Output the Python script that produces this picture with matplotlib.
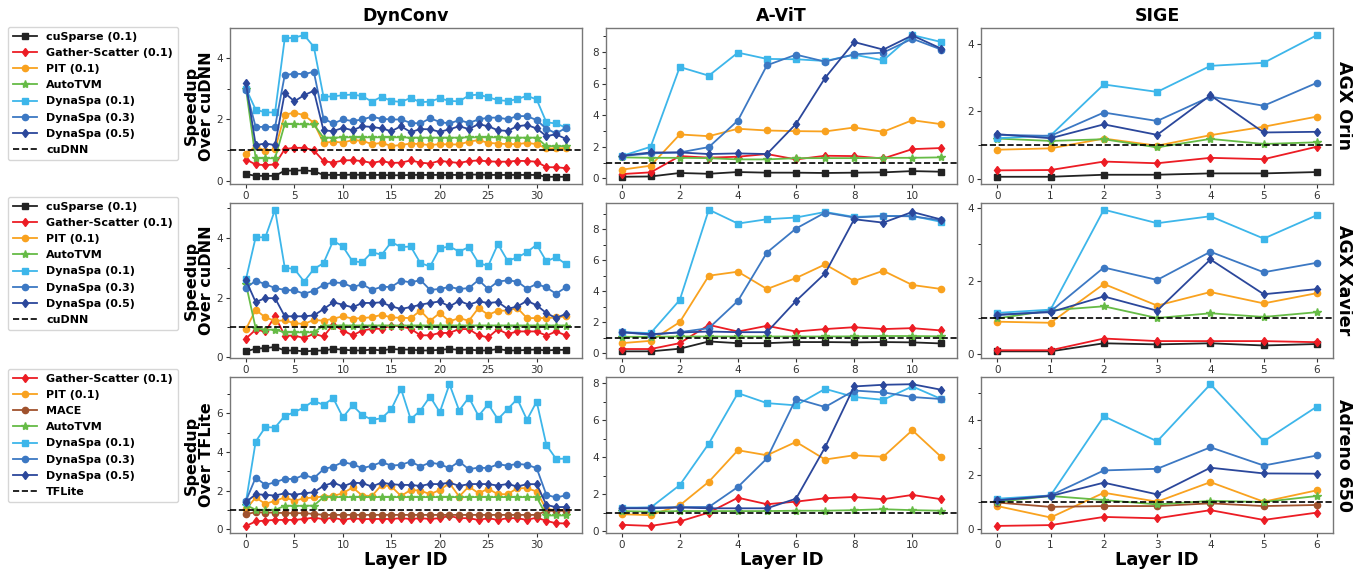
import matplotlib
matplotlib.use("Agg")
import matplotlib.pyplot as plt
from matplotlib.ticker import MultipleLocator

layers_dynconv = list(range(34))
layers_avit = list(range(12))
layers_sige = list(range(7))

col_titles = ["DynConv", "A-ViT", "SIGE"]
row_names = ["AGX Orin", "AGX Xavier", "Adreno 650"]
baselines = ["cuDNN", "cuDNN", "TFLite"]

# ---- AGX Orin ----
orin_dynconv_cusparse = [0.23, 0.17, 0.17, 0.17, 0.34, 0.34, 0.35, 0.32, 0.20, 0.20, 0.20, 0.21, 0.20, 0.20, 0.20, 0.19, 0.19,
                         0.20, 0.20, 0.20, 0.20, 0.20, 0.20, 0.21, 0.21, 0.20, 0.20, 0.20, 0.20, 0.20, 0.20, 0.14, 0.14, 0.14]
orin_dynconv_gather = [0.70, 0.54, 0.52, 0.54, 1.04, 1.08, 1.08, 1.00, 0.65, 0.60, 0.67, 0.68, 0.65, 0.59, 0.65, 0.59, 0.60,
                       0.67, 0.60, 0.57, 0.66, 0.62, 0.59, 0.65, 0.67, 0.64, 0.63, 0.63, 0.66, 0.65, 0.63, 0.45, 0.45, 0.42]
orin_dynconv_pit = [0.88, 1.13, 0.98, 1.03, 2.16, 2.22, 2.14, 1.89, 1.24, 1.28, 1.25, 1.33, 1.31, 1.20, 1.24, 1.14, 1.17,
                    1.22, 1.20, 1.17, 1.20, 1.19, 1.19, 1.28, 1.33, 1.24, 1.22, 1.20, 1.20, 1.24, 1.20, 1.06, 1.06, 1.07]
orin_dynconv_autotvm = [3.00, 0.74, 0.74, 0.74, 1.85, 1.85, 1.84, 1.84, 1.41, 1.41, 1.42, 1.42, 1.42, 1.42, 1.42, 1.42, 1.42,
                        1.41, 1.41, 1.41, 1.41, 1.41, 1.41, 1.42, 1.42, 1.42, 1.42, 1.41, 1.41, 1.41, 1.41, 1.13, 1.14, 1.13]
orin_dynconv_dyna01 = [3.00, 2.32, 2.23, 2.23, 4.63, 4.66, 4.74, 4.36, 2.74, 2.75, 2.79, 2.81, 2.76, 2.58, 2.74, 2.60, 2.57,
                       2.70, 2.56, 2.58, 2.69, 2.60, 2.59, 2.78, 2.81, 2.72, 2.63, 2.60, 2.66, 2.77, 2.65, 1.91, 1.87, 1.74]
orin_dynconv_dyna03 = [2.95, 1.76, 1.76, 1.76, 3.44, 3.49, 3.47, 3.55, 2.03, 1.87, 2.00, 1.95, 2.00, 2.09, 2.02, 2.00, 2.00,
                       1.89, 1.87, 2.04, 1.92, 1.87, 1.98, 1.89, 2.00, 2.06, 2.06, 2.01, 2.11, 2.11, 1.98, 1.70, 1.55, 1.72]
orin_dynconv_dyna05 = [3.17, 1.17, 1.22, 1.17, 2.86, 2.59, 2.79, 2.93, 1.65, 1.62, 1.73, 1.65, 1.78, 1.76, 1.71, 1.62, 1.78,
                       1.59, 1.69, 1.68, 1.60, 1.68, 1.78, 1.69, 1.85, 1.78, 1.65, 1.63, 1.78, 1.82, 1.71, 1.46, 1.52, 1.37]

orin_avit_cusparse = [0.10, 0.12, 0.34, 0.29, 0.40, 0.36, 0.36, 0.34, 0.36, 0.38, 0.46, 0.42]
orin_avit_gather = [0.27, 0.38, 1.41, 1.31, 1.37, 1.54, 1.20, 1.43, 1.41, 1.26, 1.85, 1.92]
orin_avit_pit = [0.55, 0.80, 2.78, 2.67, 3.14, 3.03, 2.99, 2.97, 3.22, 2.95, 3.68, 3.43]
orin_avit_autotvm = [1.33, 1.30, 1.30, 1.28, 1.20, 1.20, 1.28, 1.28, 1.28, 1.30, 1.30, 1.33]
orin_avit_dyna01 = [1.41, 2.00, 7.05, 6.50, 7.96, 7.56, 7.54, 7.43, 7.83, 7.47, 9.07, 8.63]
orin_avit_dyna03 = [1.41, 1.58, 1.64, 1.98, 3.66, 7.16, 7.83, 7.39, 7.85, 7.96, 8.84, 8.15]
orin_avit_dyna05 = [1.43, 1.64, 1.64, 1.54, 1.58, 1.54, 3.45, 6.36, 8.63, 8.15, 9.05, 8.21]

orin_sige_cusparse = [0.06, 0.06, 0.12, 0.12, 0.16, 0.16, 0.20]
orin_sige_gather = [0.25, 0.26, 0.51, 0.46, 0.62, 0.58, 0.95]
orin_sige_pit = [0.86, 0.90, 1.19, 0.98, 1.29, 1.54, 1.84]
orin_sige_autotvm = [1.19, 1.12, 1.17, 0.93, 1.18, 1.03, 1.08]
orin_sige_dyna01 = [1.20, 1.28, 2.79, 2.57, 3.34, 3.43, 4.25]
orin_sige_dyna03 = [1.30, 1.27, 1.96, 1.71, 2.43, 2.16, 2.84]
orin_sige_dyna05 = [1.32, 1.20, 1.61, 1.30, 2.47, 1.37, 1.39]

# ---- AGX Xavier ----
xavier_dynconv_cusparse = [0.19, 0.28, 0.30, 0.34, 0.22, 0.22, 0.19, 0.21, 0.22, 0.27, 0.25, 0.22, 0.22, 0.25, 0.22, 0.27, 0.25,
                           0.25, 0.22, 0.22, 0.24, 0.27, 0.24, 0.25, 0.22, 0.22, 0.27, 0.22, 0.22, 0.24, 0.25, 0.22, 0.24, 0.24]
xavier_dynconv_gather = [0.62, 0.92, 0.86, 1.37, 0.72, 0.72, 0.64, 0.78, 0.69, 1.09, 0.89, 0.73, 0.89, 0.95, 0.95, 1.06, 1.03,
                         0.95, 0.73, 0.73, 0.81, 0.81, 0.94, 0.94, 0.73, 0.66, 0.94, 0.77, 0.86, 0.86, 0.86, 0.72, 0.86, 0.73]
xavier_dynconv_pit = [0.94, 1.59, 1.33, 1.22, 1.23, 1.14, 1.11, 1.25, 1.22, 1.29, 1.37, 1.29, 1.31, 1.34, 1.42, 1.33, 1.32,
                      1.31, 1.56, 1.22, 1.48, 1.20, 1.31, 1.22, 1.65, 1.42, 1.56, 1.56, 1.65, 1.31, 1.31, 1.31, 1.33, 1.37]
xavier_dynconv_autotvm = [2.45, 0.97, 0.92, 0.92, 0.83, 0.83, 0.83, 0.83, 1.06, 1.06, 1.06, 1.06, 1.06, 1.06, 1.06, 1.06, 1.06,
                          1.06, 1.06, 1.06, 1.06, 1.06, 1.06, 1.06, 1.06, 1.06, 1.06, 1.06, 1.06, 1.06, 1.06, 1.06, 1.06, 1.06]
xavier_dynconv_dyna01 = [2.62, 4.03, 4.03, 4.96, 3.01, 2.96, 2.54, 2.96, 3.16, 3.91, 3.72, 3.22, 3.19, 3.53, 3.44, 3.87, 3.70,
                         3.72, 3.16, 3.05, 3.66, 3.72, 3.55, 3.70, 3.16, 3.07, 3.80, 3.24, 3.35, 3.53, 3.78, 3.22, 3.36, 3.13]
xavier_dynconv_dyna03 = [2.32, 2.57, 2.45, 2.32, 2.26, 2.24, 2.13, 2.23, 2.43, 2.51, 2.49, 2.35, 2.45, 2.26, 2.36, 2.36, 2.57,
                         2.51, 2.59, 2.26, 2.29, 2.36, 2.29, 2.32, 2.59, 2.29, 2.54, 2.58, 2.54, 2.30, 2.46, 2.34, 2.13, 2.34]
xavier_dynconv_dyna05 = [2.58, 1.85, 1.98, 1.98, 1.37, 1.37, 1.37, 1.40, 1.61, 1.84, 1.76, 1.67, 1.82, 1.82, 1.84, 1.70, 1.62,
                         1.68, 1.76, 1.82, 1.87, 1.70, 1.89, 1.76, 1.87, 1.82, 1.85, 1.62, 1.70, 1.89, 1.74, 1.48, 1.31, 1.45]

xavier_avit_cusparse = [0.11, 0.11, 0.28, 0.75, 0.64, 0.64, 0.71, 0.71, 0.69, 0.71, 0.69, 0.62]
xavier_avit_gather = [0.26, 0.26, 0.64, 1.82, 1.39, 1.76, 1.39, 1.55, 1.67, 1.55, 1.61, 1.46]
xavier_avit_pit = [0.64, 0.79, 2.00, 5.00, 5.26, 4.14, 4.85, 5.73, 4.66, 5.32, 4.40, 4.14]
xavier_avit_autotvm = [1.05, 1.05, 1.07, 1.07, 1.07, 1.07, 1.07, 1.07, 1.08, 1.10, 1.10, 1.08]
xavier_avit_dyna01 = [1.35, 1.29, 3.43, 9.27, 8.37, 8.65, 8.76, 9.12, 8.80, 8.86, 8.86, 8.48]
xavier_avit_dyna03 = [1.35, 1.18, 1.35, 1.61, 3.37, 6.50, 8.05, 9.08, 8.76, 8.86, 8.84, 8.58]
xavier_avit_dyna05 = [1.35, 1.22, 1.33, 1.39, 1.35, 1.35, 3.37, 5.15, 8.65, 8.43, 9.12, 8.63]

xavier_sige_cusparse = [0.08, 0.08, 0.30, 0.27, 0.30, 0.24, 0.28]
xavier_sige_gather = [0.11, 0.11, 0.43, 0.36, 0.36, 0.36, 0.33]
xavier_sige_pit = [0.89, 0.86, 1.92, 1.33, 1.70, 1.39, 1.67]
xavier_sige_autotvm = [0.98, 1.20, 1.31, 0.99, 1.12, 1.02, 1.15]
xavier_sige_dyna01 = [1.13, 1.22, 3.95, 3.58, 3.77, 3.16, 3.80]
xavier_sige_dyna03 = [1.07, 1.17, 2.37, 2.03, 2.80, 2.24, 2.50]
xavier_sige_dyna05 = [1.08, 1.15, 1.58, 1.19, 2.59, 1.64, 1.78]

# ---- Adreno 650 ----
adreno_dynconv_gather = [0.17, 0.40, 0.45, 0.48, 0.48, 0.48, 0.53, 0.60, 0.52, 0.60, 0.48, 0.57, 0.52, 0.53, 0.53, 0.53, 0.57,
                         0.53, 0.57, 0.53, 0.57, 0.69, 0.57, 0.57, 0.48, 0.57, 0.48, 0.57, 0.57, 0.48, 0.60, 0.43, 0.31, 0.30]
adreno_dynconv_pit = [1.03, 1.64, 1.31, 1.47, 1.64, 1.47, 1.60, 1.64, 1.69, 1.72, 1.86, 2.16, 1.74, 1.72, 2.29, 2.21, 1.72,
                      2.03, 2.00, 1.81, 2.03, 2.38, 1.69, 2.21, 1.86, 2.09, 1.81, 1.81, 2.12, 2.12, 1.95, 1.03, 1.00, 1.00]
adreno_dynconv_mace = [0.78, 0.88, 0.86, 0.86, 0.83, 0.83, 0.83, 0.79, 0.74, 0.74, 0.74, 0.74, 0.74, 0.74, 0.74, 0.74, 0.74,
                       0.74, 0.74, 0.74, 0.74, 0.74, 0.74, 0.74, 0.74, 0.74, 0.74, 0.74, 0.74, 0.74, 0.74, 0.95, 0.95, 0.95]
adreno_dynconv_autotvm = [1.26, 1.00, 1.00, 1.00, 1.21, 1.21, 1.21, 1.22, 1.66, 1.66, 1.66, 1.66, 1.66, 1.66, 1.66, 1.66, 1.66,
                          1.66, 1.66, 1.66, 1.66, 1.66, 1.66, 1.66, 1.66, 1.66, 1.66, 1.66, 1.66, 1.66, 1.66, 0.71, 0.71, 0.71]
adreno_dynconv_dyna01 = [1.43, 4.53, 5.28, 5.26, 5.86, 6.05, 6.31, 6.64, 6.43, 6.78, 5.79, 6.40, 5.91, 5.66, 5.74, 6.21, 7.26,
                         5.69, 6.14, 6.86, 6.05, 7.50, 6.14, 6.81, 5.86, 6.47, 5.69, 6.21, 6.74, 5.66, 6.60, 4.36, 3.64, 3.65]
adreno_dynconv_dyna03 = [1.47, 2.67, 2.29, 2.43, 2.60, 2.60, 2.81, 2.64, 3.10, 3.24, 3.47, 3.36, 3.16, 3.28, 3.47, 3.29, 3.33,
                         3.50, 3.24, 3.45, 3.36, 3.16, 3.50, 3.10, 3.19, 3.16, 3.36, 3.29, 3.38, 3.33, 3.16, 1.78, 1.64, 1.75]
adreno_dynconv_dyna05 = [1.40, 1.81, 1.78, 1.74, 1.86, 1.78, 1.86, 1.91, 2.24, 2.41, 2.21, 2.41, 2.38, 2.21, 2.41, 2.33, 2.29,
                         2.29, 2.24, 2.34, 2.33, 2.41, 2.24, 2.33, 2.34, 2.33, 2.26, 2.34, 2.21, 2.33, 2.33, 1.26, 1.14, 1.15]

adreno_avit_gather = [0.36, 0.30, 0.54, 1.02, 1.82, 1.47, 1.61, 1.79, 1.86, 1.74, 1.97, 1.74]
adreno_avit_pit = [0.93, 0.88, 1.41, 2.68, 4.38, 4.11, 4.83, 3.88, 4.11, 4.03, 5.46, 4.01]
adreno_avit_autotvm = [1.10, 1.07, 1.10, 1.10, 1.10, 1.10, 1.12, 1.12, 1.15, 1.20, 1.15, 1.12]
adreno_avit_dyna01 = [1.29, 1.29, 2.50, 4.74, 7.46, 6.92, 6.80, 7.69, 7.25, 7.10, 7.82, 7.14]
adreno_avit_dyna03 = [1.25, 1.29, 1.32, 1.32, 2.40, 3.94, 7.16, 6.71, 7.60, 7.50, 7.25, 7.14]
adreno_avit_dyna05 = [1.25, 1.25, 1.29, 1.25, 1.25, 1.25, 1.77, 4.54, 7.82, 7.91, 7.94, 7.64]

adreno_sige_gather = [0.12, 0.15, 0.45, 0.40, 0.70, 0.34, 0.61]
adreno_sige_pit = [0.85, 0.43, 1.34, 1.01, 1.73, 1.01, 1.43]
adreno_sige_mace = [0.98, 0.82, 0.85, 0.85, 0.95, 0.85, 0.89]
adreno_sige_autotvm = [1.00, 1.22, 1.07, 0.91, 1.04, 1.00, 1.22]
adreno_sige_dyna01 = [1.12, 1.24, 4.15, 3.23, 5.33, 3.23, 4.51]
adreno_sige_dyna03 = [1.06, 1.24, 2.16, 2.22, 3.01, 2.34, 2.71]
adreno_sige_dyna05 = [1.06, 1.22, 1.71, 1.28, 2.26, 2.05, 2.04]

styles = {
    "cuSparse (0.1)": ("#222222", "s"),
    "Gather-Scatter (0.1)": ("#ec1c24", "d"),
    "PIT (0.1)": ("#f9a21f", "o"),
    "MACE": ("#a0522d", "o"),
    "AutoTVM": ("#66bb46", "*"),
    "DynaSpa (0.1)": ("#3db6ea", "s"),
    "DynaSpa (0.3)": ("#3c78c3", "o"),
    "DynaSpa (0.5)": ("#2b479b", "d"),
}

orin_methods = ["cuSparse (0.1)", "Gather-Scatter (0.1)", "PIT (0.1)", "AutoTVM",
                "DynaSpa (0.1)", "DynaSpa (0.3)", "DynaSpa (0.5)"]
adreno_methods = ["Gather-Scatter (0.1)", "PIT (0.1)", "MACE", "AutoTVM",
                  "DynaSpa (0.1)", "DynaSpa (0.3)", "DynaSpa (0.5)"]
adreno_avit_methods = ["Gather-Scatter (0.1)", "PIT (0.1)", "AutoTVM",
                       "DynaSpa (0.1)", "DynaSpa (0.3)", "DynaSpa (0.5)"]

panels = [
    [(layers_dynconv, orin_methods, [orin_dynconv_cusparse, orin_dynconv_gather, orin_dynconv_pit, orin_dynconv_autotvm,
                                     orin_dynconv_dyna01, orin_dynconv_dyna03, orin_dynconv_dyna05]),
     (layers_avit, orin_methods, [orin_avit_cusparse, orin_avit_gather, orin_avit_pit, orin_avit_autotvm,
                                  orin_avit_dyna01, orin_avit_dyna03, orin_avit_dyna05]),
     (layers_sige, orin_methods, [orin_sige_cusparse, orin_sige_gather, orin_sige_pit, orin_sige_autotvm,
                                  orin_sige_dyna01, orin_sige_dyna03, orin_sige_dyna05])],
    [(layers_dynconv, orin_methods, [xavier_dynconv_cusparse, xavier_dynconv_gather, xavier_dynconv_pit,
                                     xavier_dynconv_autotvm, xavier_dynconv_dyna01, xavier_dynconv_dyna03,
                                     xavier_dynconv_dyna05]),
     (layers_avit, orin_methods, [xavier_avit_cusparse, xavier_avit_gather, xavier_avit_pit, xavier_avit_autotvm,
                                  xavier_avit_dyna01, xavier_avit_dyna03, xavier_avit_dyna05]),
     (layers_sige, orin_methods, [xavier_sige_cusparse, xavier_sige_gather, xavier_sige_pit, xavier_sige_autotvm,
                                  xavier_sige_dyna01, xavier_sige_dyna03, xavier_sige_dyna05])],
    [(layers_dynconv, adreno_methods, [adreno_dynconv_gather, adreno_dynconv_pit, adreno_dynconv_mace,
                                       adreno_dynconv_autotvm, adreno_dynconv_dyna01, adreno_dynconv_dyna03,
                                       adreno_dynconv_dyna05]),
     (layers_avit, adreno_avit_methods, [adreno_avit_gather, adreno_avit_pit, adreno_avit_autotvm,
                                         adreno_avit_dyna01, adreno_avit_dyna03, adreno_avit_dyna05]),
     (layers_sige, adreno_methods, [adreno_sige_gather, adreno_sige_pit, adreno_sige_mace, adreno_sige_autotvm,
                                    adreno_sige_dyna01, adreno_sige_dyna03, adreno_sige_dyna05])],
]

W, H = 1353, 572
fig, axes = plt.subplots(3, 3, figsize=(W / 100, H / 100), dpi=100)
fig.subplots_adjust(left=230 / W, right=1333 / W, top=1 - 28 / H, bottom=1 - 533 / H,
                    wspace=0.068, hspace=0.12)

for r in range(3):
    for c in range(3):
        ax = axes[r][c]
        x, methods, series = panels[r][c]
        for name, vals in zip(methods, series):
            color, marker = styles[name]
            ms = 6 if marker == "*" else 4.5
            ax.plot(x, vals, color=color, marker=marker, markersize=ms, linewidth=1.3, label=name)
        ax.axhline(1.0, color="black", linestyle="--", linewidth=1.2, label=baselines[r], zorder=5)
        ax.yaxis.set_major_locator(MultipleLocator(2))
        ax.yaxis.set_minor_locator(MultipleLocator(1))
        if c == 0:
            ax.xaxis.set_major_locator(MultipleLocator(5))
        elif c == 1:
            ax.xaxis.set_major_locator(MultipleLocator(2))
        else:
            ax.xaxis.set_major_locator(MultipleLocator(1))
        ax.tick_params(labelsize=7.5, length=3, width=0.8, colors="#333333", pad=2)
        ax.tick_params(which="minor", length=2)
        for s in ax.spines.values():
            s.set_color("#777777")
            s.set_linewidth(1.0)
        if r == 0:
            ax.set_title(col_titles[c], fontsize=12.5, fontweight="bold", pad=5)
        if r == 2:
            ax.set_xlabel("Layer ID", fontsize=13, fontweight="bold", labelpad=1)
        if c == 0:
            ax.set_ylabel("Speedup\nOver " + baselines[r], fontsize=11.5, fontweight="bold", labelpad=2,
                          linespacing=1.0)
    # row label on the right
    pos = axes[r][2].get_position()
    fig.text(1344 / W, (pos.y0 + pos.y1) / 2, row_names[r], rotation=270, ha="center", va="center",
             fontsize=12.5, fontweight="bold")
    # legend on the left
    handles, labels = axes[r][0].get_legend_handles_labels()
    top = [27, 197, 369][r]
    fig.legend(handles, labels, loc="upper left", bbox_to_anchor=(8 / W, 1 - top / H), borderaxespad=0,
               prop={"size": 8, "weight": "bold"}, handlelength=2.2, labelspacing=0.55,
               borderpad=0.45, handletextpad=0.8, frameon=True, edgecolor="#cccccc", fancybox=True)

fig.savefig("out.png", dpi=100)
